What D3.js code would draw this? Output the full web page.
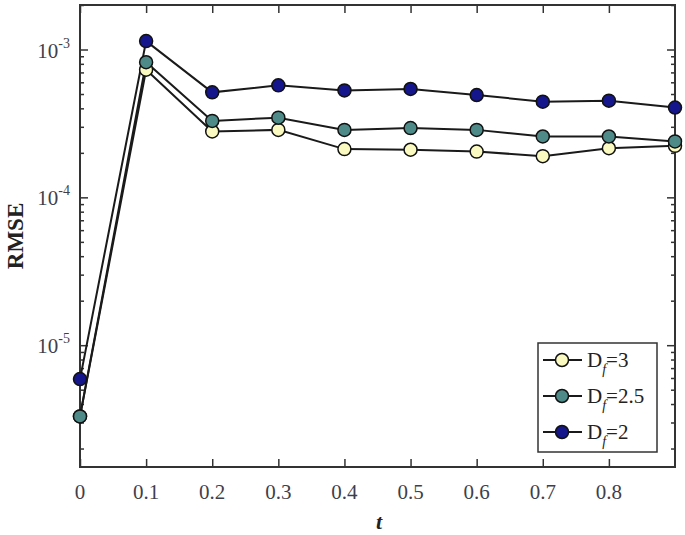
<!DOCTYPE html>
<html>
<head>
<meta charset="utf-8">
<script src="https://cdn.jsdelivr.net/npm/d3@7"></script>
<style>
  body { margin: 0; background: #fff; }
</style>
</head>
<body>
<script>
// t values and RMSE per fractal dimension
const tValues = [0, 0.1, 0.2, 0.3, 0.4, 0.5, 0.6, 0.7, 0.8, 0.9];
const rmseDf3 = [3.3e-6, 7.3e-4, 2.79e-4, 2.86e-4, 2.12e-4, 2.1e-4, 2.04e-4, 1.9e-4, 2.15e-4, 2.23e-4];
const rmseDf25 = [3.3e-6, 8.2e-4, 3.29e-4, 3.46e-4, 2.86e-4, 2.94e-4, 2.86e-4, 2.58e-4, 2.58e-4, 2.39e-4];
const rmseDf2 = [5.9e-6, 1.14e-3, 5.13e-4, 5.72e-4, 5.29e-4, 5.41e-4, 4.92e-4, 4.44e-4, 4.51e-4, 4.05e-4];
const seriesNames = ["3", "2.5", "2"];
const seriesColors = ["#fbfac0", "#4e8b88", "#15168c"];
const xTicks = [0, 0.1, 0.2, 0.3, 0.4, 0.5, 0.6, 0.7, 0.8];
const yMajor = [1e-5, 1e-4, 1e-3];
const yExp = [-5, -4, -3];

const series = [rmseDf3, rmseDf25, rmseDf2];

const serif = "'Liberation Serif', 'Times New Roman', Times, serif";

const width = 685, height = 535;
const margin = { top: 5, right: 10, bottom: 68, left: 80 };
const iw = width - margin.left - margin.right,
      ih = height - margin.top - margin.bottom;

const svg = d3.select("body").append("svg")
    .attr("width", width)
    .attr("height", height)
    .attr("font-family", serif);

const g = svg.append("g")
    .attr("transform", "translate(" + margin.left + "," + margin.top + ")");

let x = d3.scaleLinear().domain([0, 0.9]).range([0, iw]);
let y = d3.scaleLog().domain([1.5e-6, 2e-3]).range([ih, 0]);

// minor ticks for log axis
let yMinor = [];
for (let e = -6; e <= -3; e++) {
    for (let m = 2; m <= 9; m++) {
        let v = m * Math.pow(10, e);
        if (v >= 1.5e-6 && v <= 2e-3) yMinor.push(v);
    }
}

const axisColor = "#333";
const tickColor = "#3f3f4c";

function styleAxis(sel) {
    sel.selectAll("path").remove();
    sel.selectAll("line").attr("stroke", axisColor).attr("stroke-width", 1.5);
}

// left axis (inward ticks)
g.append("g").call(d3.axisLeft(y).tickValues(yMinor).tickSize(-4).tickFormat("")).call(styleAxis);
g.append("g").call(d3.axisLeft(y).tickValues(yMajor).tickSize(-8).tickFormat("")).call(styleAxis);
// right axis
g.append("g").attr("transform", "translate(" + iw + ",0)")
    .call(d3.axisRight(y).tickValues(yMinor).tickSize(-4).tickFormat("")).call(styleAxis);
g.append("g").attr("transform", "translate(" + iw + ",0)")
    .call(d3.axisRight(y).tickValues(yMajor).tickSize(-8).tickFormat("")).call(styleAxis);
// bottom and top
g.append("g").attr("transform", "translate(0," + ih + ")")
    .call(d3.axisBottom(x).tickValues(xTicks).tickSize(-8).tickFormat("")).call(styleAxis);
g.append("g")
    .call(d3.axisTop(x).tickValues(xTicks).tickSize(-8).tickFormat("")).call(styleAxis);

// frame
g.append("rect")
    .attr("width", iw).attr("height", ih)
    .attr("fill", "none")
    .attr("stroke", axisColor)
    .attr("stroke-width", 2);

// y tick labels 10^n
yMajor.forEach(function (v, i) {
    let t = g.append("text")
        .attr("x", -10)
        .attr("y", y(v) + 8)
        .attr("text-anchor", "end")
        .attr("fill", tickColor)
        .attr("font-family", serif)
        .style("font-size", "21px");
    t.append("tspan").text("10");
    t.append("tspan").attr("dy", -10).style("font-size", "14px").text("-" + (-yExp[i]));
});

// x tick labels
g.selectAll(".xlab")
    .data(xTicks)
    .enter().append("text")
    .attr("class", "xlab")
    .attr("x", function (d) { return x(d); })
    .attr("y", ih + 32)
    .attr("text-anchor", "middle")
    .attr("fill", tickColor)
    .attr("font-family", serif)
    .style("font-size", "21px")
    .text(function (d) { return d3.format("")(d); });

// axis titles
svg.append("text")
    .attr("transform", "translate(23,236) rotate(-90)")
    .attr("text-anchor", "middle")
    .attr("font-family", serif)
    .style("font-size", "23px")
    .style("font-weight", "bold")
    .attr("fill", "#222")
    .text("RMSE");

svg.append("text")
    .attr("x", 379)
    .attr("y", 529)
    .attr("text-anchor", "middle")
    .attr("font-family", serif)
    .style("font-size", "22px")
    .style("font-weight", "bold")
    .style("font-style", "italic")
    .attr("fill", "#222")
    .text("t");

// lines and markers
let line = d3.line()
    .x(function (d, i) { return x(tValues[i]); })
    .y(function (d) { return y(d); });

series.forEach(function (s, k) {
    g.append("path")
        .datum(s)
        .attr("d", line)
        .attr("fill", "none")
        .attr("stroke", "#1a1a1a")
        .attr("stroke-width", 2);
});
series.forEach(function (s, k) {
    g.selectAll(".dot" + k)
        .data(s)
        .enter().append("circle")
        .attr("class", "dot" + k)
        .attr("r", 6.5)
        .attr("cx", function (d, i) { return x(tValues[i]); })
        .attr("cy", function (d) { return y(d); })
        .attr("fill", seriesColors[k])
        .attr("stroke", "#111")
        .attr("stroke-width", 1.5);
});

// legend
const lg = svg.append("g").attr("transform", "translate(538,343)");
lg.append("rect")
    .attr("width", 119).attr("height", 109)
    .attr("fill", "#fff")
    .attr("stroke", axisColor)
    .attr("stroke-width", 1.5);

seriesNames.forEach(function (name, k) {
    let ry = 17 + k * 36;
    lg.append("line")
        .attr("x1", 5).attr("x2", 44)
        .attr("y1", ry).attr("y2", ry)
        .attr("stroke", "#1a1a1a").attr("stroke-width", 2);
    lg.append("circle")
        .attr("cx", 24).attr("cy", ry).attr("r", 6.5)
        .attr("fill", seriesColors[k])
        .attr("stroke", "#111").attr("stroke-width", 1.5);
    let t = lg.append("text")
        .attr("x", 49)
        .attr("y", ry + 7)
        .attr("fill", "#222")
        .attr("font-family", serif)
        .style("font-size", "21px");
    t.append("tspan").text("D");
    t.append("tspan").attr("dy", 7).style("font-size", "14px").style("font-style", "italic").text("f");
    t.append("tspan").attr("dy", -7).text("=" + name);
});
</script>
</body>
</html>
